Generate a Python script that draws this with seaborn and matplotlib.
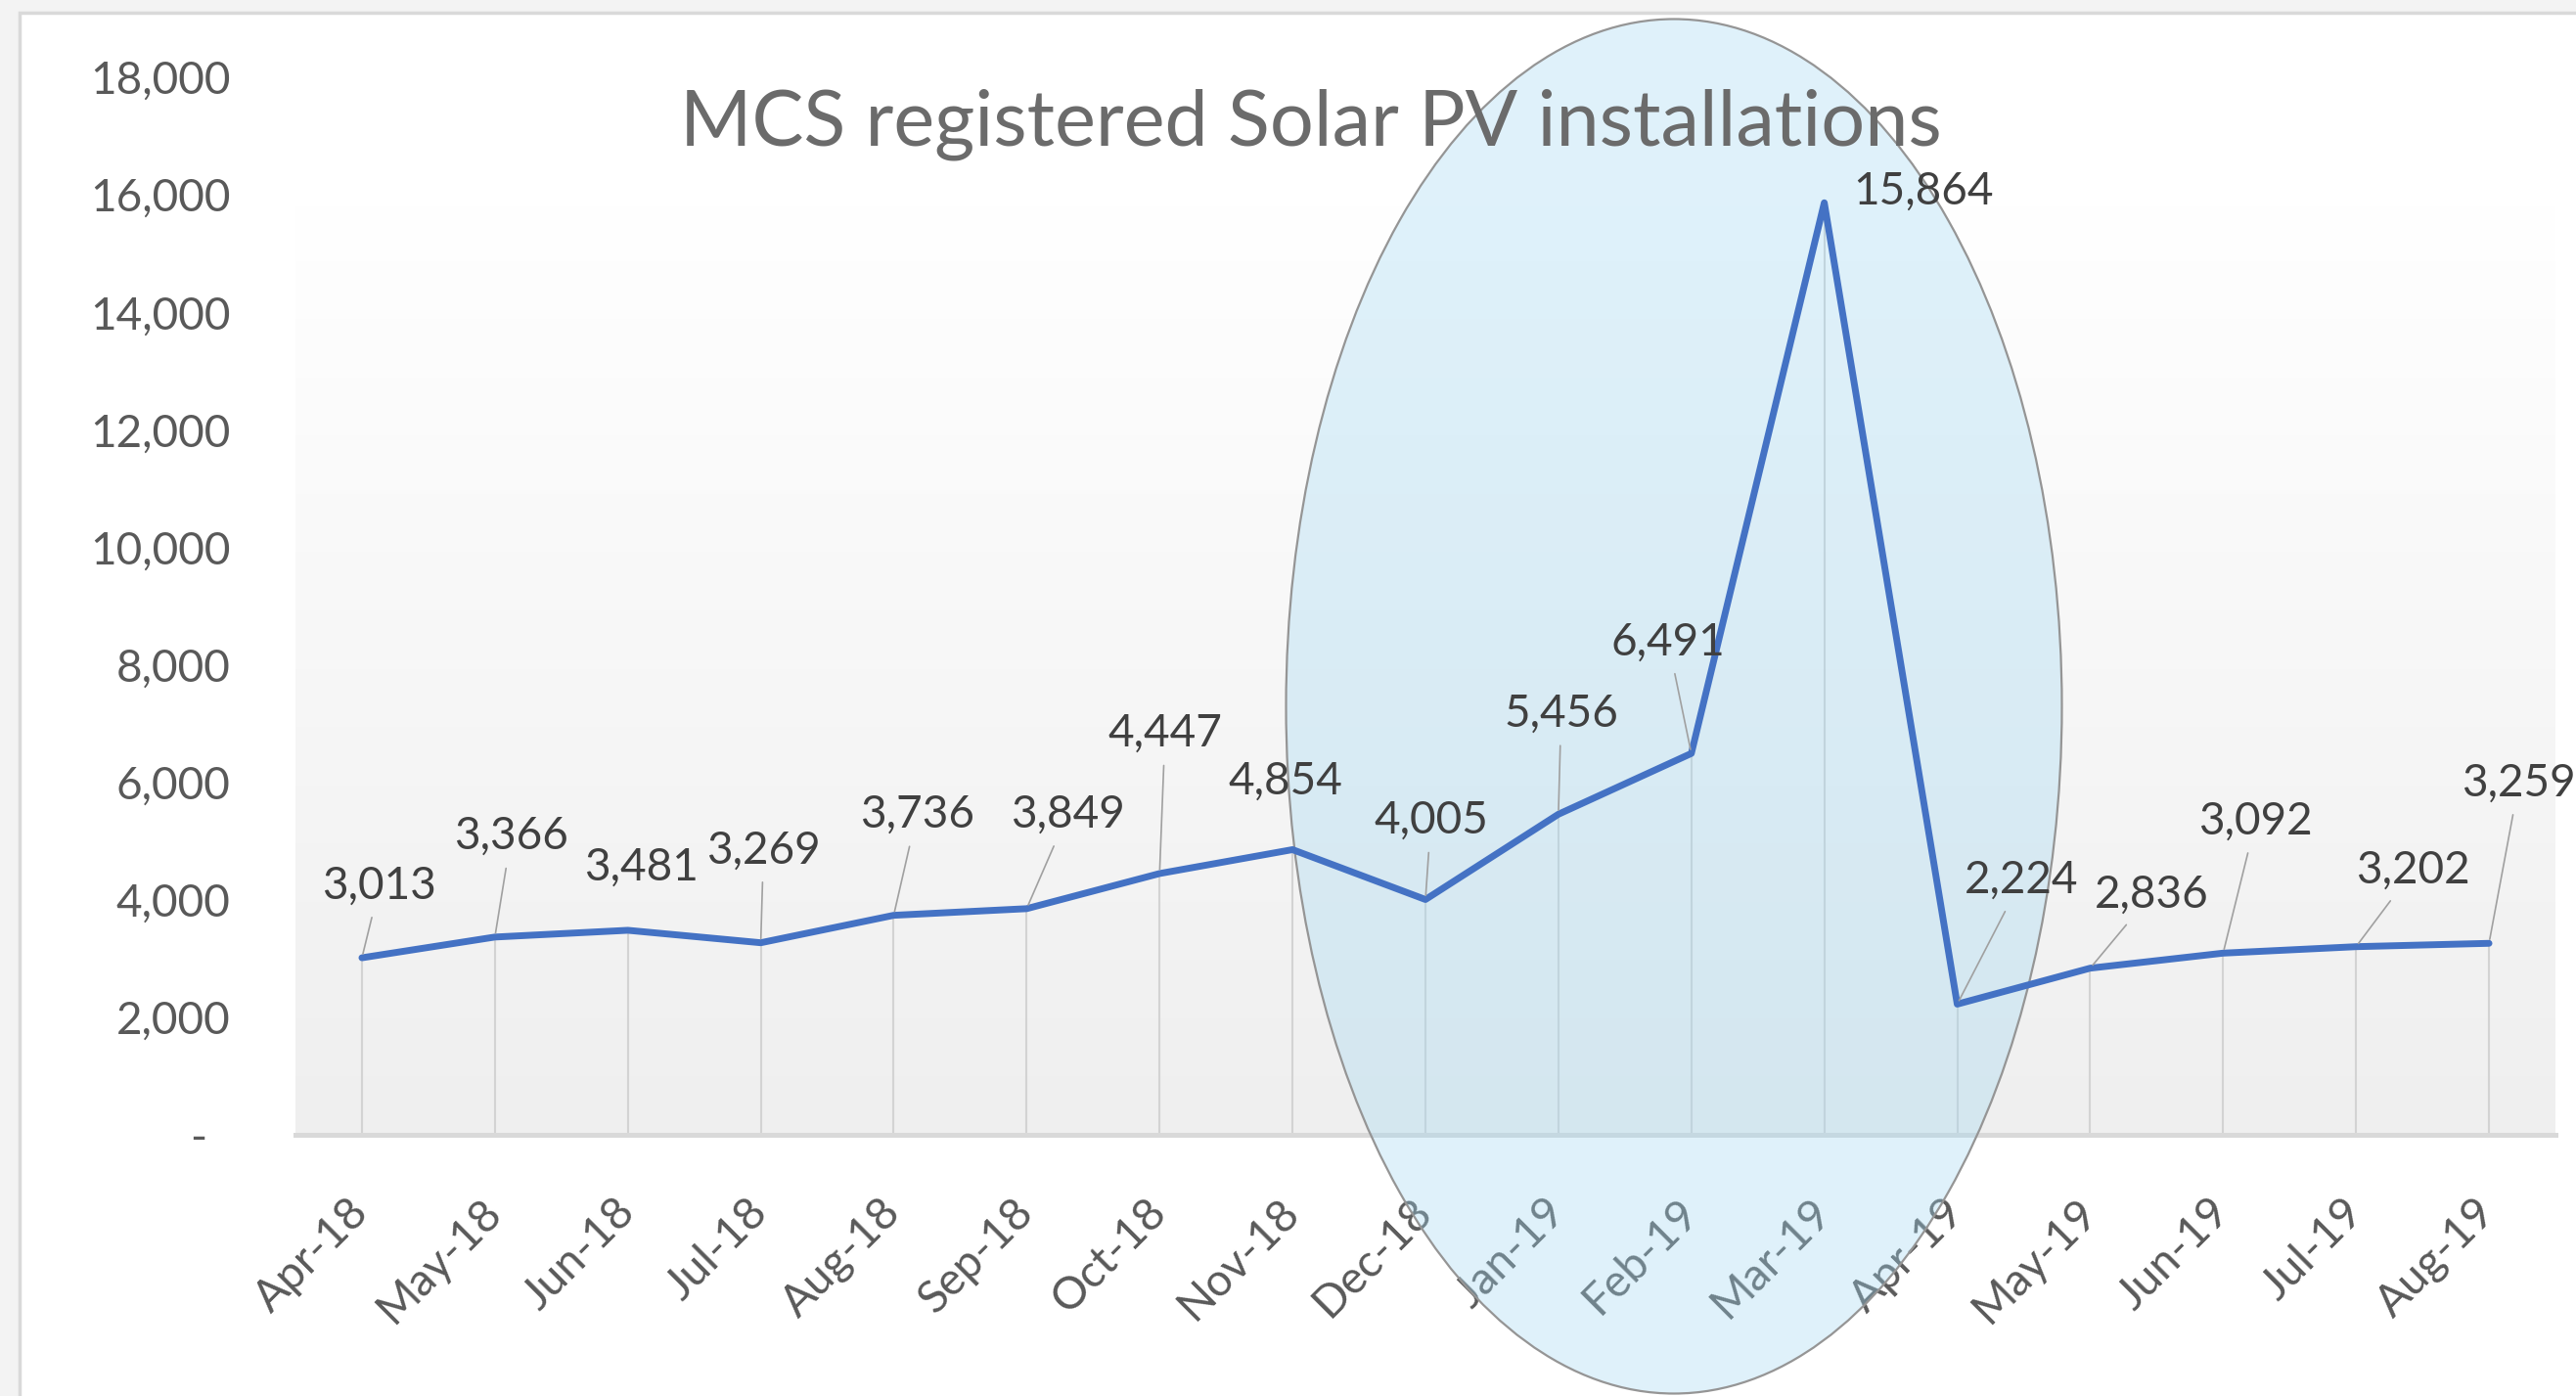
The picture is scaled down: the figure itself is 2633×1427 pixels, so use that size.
import numpy as np
import matplotlib
matplotlib.use("Agg")
import matplotlib.pyplot as plt
import seaborn as sns
from matplotlib.patches import Ellipse, Rectangle
from matplotlib.colors import LinearSegmentedColormap
from matplotlib.transforms import ScaledTranslation

# ---------------- data ----------------
months = ["Apr-18", "May-18", "Jun-18", "Jul-18", "Aug-18", "Sep-18", "Oct-18",
          "Nov-18", "Dec-18", "Jan-19", "Feb-19", "Mar-19", "Apr-19", "May-19",
          "Jun-19", "Jul-19", "Aug-19"]
installations = [3013, 3366, 3481, 3269, 3736, 3849, 4447, 4854, 4005, 5456,
                 6491, 15864, 2224, 2836, 3092, 3202, 3259]
y_ticks = [0, 2000, 4000, 6000, 8000, 10000, 12000, 14000, 16000, 18000]
title = "MCS registered Solar PV installations"

# ---------------- layout (label offsets in points, leader flags) ----------------
label_offsets = [(13, 53), (12, 74), (10, 46), (2, 68), (17, 74), (30, 69),
                 (4, 103), (-5, 50), (4, 58), (2, 74), (-17, 82), (73, 8),
                 (47, 91), (45, 54), (24, 97), (42, 56), (22, 118)]
show_leader = [1, 1, 0, 1, 1, 1, 1, 0, 1, 1, 1, 0, 1, 1, 1, 1, 1]

sns.set_style("white")
plt.rcParams["font.family"] = ["Lato", "DejaVu Sans"]

W, H = 2633, 1427
fig = plt.figure(figsize=(W / 100, H / 100), dpi=100)
fig.patch.set_facecolor("#f3f3f3")

# chart frame
fig.add_artist(Rectangle((20 / W, -0.05), 1.2, (H - 13) / H + 0.05,
                         transform=fig.transFigure, facecolor="white",
                         edgecolor="#d9d9d9", lw=2.5, zorder=-10))

ax = fig.add_axes([302 / W, (H - 1160) / H, 2310 / W, 1081 / H])
ax.set_facecolor("none")

x = np.arange(len(months))

# plot-area gradient
grad = np.linspace(0, 1, 256).reshape(-1, 1)
cmap = LinearSegmentedColormap.from_list("bg", ["#efefef", "#ffffff"])
ax.imshow(grad, extent=(-0.5, len(months) - 0.5, 0, max(installations)),
          origin="lower", cmap=cmap, aspect="auto", zorder=0)

# drop lines
ax.vlines(x, 0, installations, color="#d3d3d3", lw=1.5, zorder=1)

# main line
sns.lineplot(x=x, y=installations, ax=ax, color="#4472C4", lw=5, zorder=3)

# data labels
for xi, v, (dx, dy), lead in zip(x, installations, label_offsets, show_leader):
    ap = dict(arrowstyle="-", color="#a0a0a0", lw=1.2, shrinkA=6, shrinkB=3) if lead else None
    ax.annotate(f"{v:,}", xy=(xi, v), xytext=(dx, dy), textcoords="offset points",
                ha="center", va="center", fontsize=33, color="#404040",
                arrowprops=ap, zorder=3.5, annotation_clip=False)

# highlight ellipse
ax.add_artist(Ellipse((1711 / W, 1 - 722 / H), 793 / W, 1405 / H,
                      transform=fig.transFigure,
                      facecolor=(158 / 255, 215 / 255, 242 / 255, 0.33),
                      edgecolor="#959595", lw=1.6, clip_on=False, zorder=2.6))

# axes styling
ax.set_xlim(-0.5, len(months) - 0.5)
ax.set_ylim(0, 18000)
ax.set_xticks(x)
ax.set_xticklabels(months, rotation=45, ha="right", va="center",
                   rotation_mode="anchor", fontsize=33, color="#595959")
ax.set_xticks(np.arange(-0.5, len(months), 1), minor=True)
ax.tick_params(axis="x", which="major", length=0, pad=52)
ax.tick_params(axis="x", which="minor", length=13.7, width=1.44,
               color="#d9d9d9", direction="out")
ax.set_yticks(y_ticks)
ax.set_yticklabels([f"{v:,}" if v else "-" for v in y_ticks],
                   fontsize=33, color="#595959")
ax.tick_params(axis="y", length=0, pad=48)
for s in ["left", "right", "top"]:
    ax.spines[s].set_visible(False)
ax.spines["bottom"].set_color("#d9d9d9")
ax.spines["bottom"].set_linewidth(3.6)
ax.grid(False)

fig.text(0.509, 1 - 148 / H, title, ha="center", va="baseline",
         fontsize=57, fontweight="normal", color="#6b6b6b")

fig.canvas.draw()
zl = ax.get_yticklabels()[0]
zl.set_transform(zl.get_transform() + ScaledTranslation(-24 / 100, 0, fig.dpi_scale_trans))

fig.savefig("out.png", dpi=100, facecolor=fig.get_facecolor())
